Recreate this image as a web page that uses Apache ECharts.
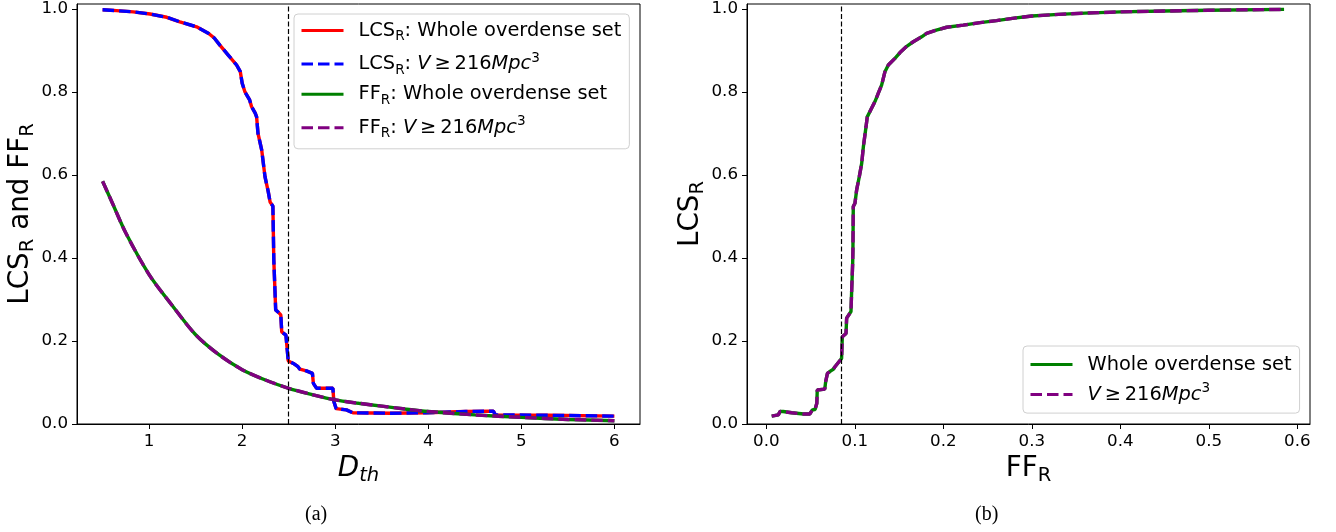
<!DOCTYPE html>
<html>
<head>
<meta charset="utf-8">
<script src="https://cdn.jsdelivr.net/npm/echarts@6/dist/echarts.min.js"></script>
<style>
html, body { margin: 0; padding: 0; background: #fff; }
#chart { width: 1336px; height: 532px; }
</style>
</head>
<body>
<div id="chart"></div>
<script>
// LCS_R as a function of the density threshold D_th
const lcsVsDth = [
  [0.50, 0.998], [0.65, 0.996], [0.83, 0.993], [1.01, 0.988], [1.19, 0.980],
  [1.33, 0.969], [1.51, 0.957], [1.64, 0.941], [1.70, 0.930], [1.76, 0.913],
  [1.85, 0.889], [1.94, 0.865], [1.98, 0.849], [2.00, 0.821], [2.03, 0.800],
  [2.08, 0.781], [2.10, 0.765], [2.14, 0.749], [2.155, 0.740], [2.17, 0.700],
  [2.21, 0.660], [2.245, 0.596], [2.28, 0.560], [2.30, 0.535], [2.33, 0.525],
  [2.34, 0.395], [2.36, 0.275], [2.385, 0.270], [2.415, 0.263], [2.425, 0.222],
  [2.47, 0.214], [2.49, 0.210], [2.495, 0.152], [2.55, 0.146], [2.60, 0.138],
  [2.62, 0.132], [2.69, 0.128], [2.755, 0.122], [2.765, 0.098], [2.80, 0.086],
  [2.975, 0.086], [2.985, 0.054], [3.01, 0.037], [3.12, 0.034], [3.19, 0.027],
  [3.60, 0.026], [3.98, 0.027], [4.40, 0.030], [4.70, 0.031], [4.72, 0.022],
  [5.30, 0.021], [6.00, 0.019]
];
// FF_R as a function of D_th
const ffVsDth = [
  [0.50, 0.585], [0.60, 0.535], [0.75, 0.460], [1.00, 0.360], [1.25, 0.285],
  [1.50, 0.215], [1.75, 0.167], [2.00, 0.131], [2.25, 0.106], [2.50, 0.086],
  [2.75, 0.071], [3.00, 0.058], [3.25, 0.050], [3.50, 0.043], [3.75, 0.036],
  [4.00, 0.030], [4.50, 0.022], [5.00, 0.016], [5.50, 0.011], [6.00, 0.008]
];
// LCS_R against FF_R
const lcsVsFf = [
  [0.006, 0.019], [0.0135, 0.022], [0.0154, 0.030], [0.019, 0.030], [0.0286, 0.027],
  [0.042, 0.024], [0.049, 0.024], [0.052, 0.034], [0.055, 0.035], [0.057, 0.050],
  [0.0575, 0.082], [0.066, 0.084], [0.067, 0.102], [0.069, 0.122], [0.0727, 0.128],
  [0.0756, 0.132], [0.0775, 0.138], [0.082, 0.150], [0.085, 0.158], [0.0858, 0.210],
  [0.090, 0.218], [0.0907, 0.255], [0.0956, 0.271], [0.0964, 0.323], [0.0975, 0.387],
  [0.0978, 0.419], [0.0982, 0.524], [0.1001, 0.532], [0.102, 0.564], [0.105, 0.596],
  [0.1077, 0.628], [0.1096, 0.668], [0.1126, 0.716], [0.114, 0.740], [0.118, 0.757],
  [0.1227, 0.777], [0.1265, 0.797], [0.1303, 0.817], [0.134, 0.849], [0.1378, 0.865],
  [0.1453, 0.881], [0.151, 0.895], [0.1586, 0.910], [0.166, 0.921], [0.1755, 0.933],
  [0.181, 0.941], [0.192, 0.949], [0.2037, 0.956], [0.2225, 0.961], [0.2414, 0.967],
  [0.26, 0.972], [0.28, 0.978], [0.30, 0.983], [0.33, 0.987], [0.36, 0.990],
  [0.40, 0.993], [0.45, 0.995], [0.50, 0.997], [0.585, 0.999]
];

const dthTicks = [1, 2, 3, 4, 5, 6];
const ffTicks = [0, 0.1, 0.2, 0.3, 0.4, 0.5, 0.6];
const yTicks = [0, 0.2, 0.4, 0.6, 0.8, 1.0];
const dthCut = 2.5;
const ffCut = 0.085;

const leftNames = ['LCS: whole', 'LCS: large', 'FF: whole', 'FF: large'];
const rightNames = ['Whole overdense set', 'Large volumes'];
const legendText = {
  'LCS: whole': '{g| }{t|LCS}{s|R}{t|: Whole overdense set}',
  'LCS: large': '{g| }{t|LCS}{s|R}{t|: }{i|V}{t|\u2009≥\u2009216}{i|Mpc}{p|3}',
  'FF: whole': '{g| }{t|FF}{s|R}{t|: Whole overdense set}',
  'FF: large': '{g| }{t|FF}{s|R}{t|: }{i|V}{t|\u2009≥\u2009216}{i|Mpc}{p|3}',
  'Whole overdense set': '{g| }{t|Whole overdense set}',
  'Large volumes': '{g| }{i|V}{t|\u2009≥\u2009216}{i|Mpc}{p|3}'
};

const FONT = 'DejaVu Sans';
const LW = 3.4;
const DASH = [11.5, 5];

const legendRich = {
  g: { width: 10, fontSize: 10, lineHeight: 26 },
  t: { fontFamily: FONT, fontSize: 19.4, color: '#000', lineHeight: 26 },
  i: { fontFamily: FONT, fontSize: 19.4, fontStyle: 'italic', color: '#000', lineHeight: 26 },
  s: { fontFamily: FONT, fontSize: 13.6, color: '#000', lineHeight: 16.6, verticalAlign: 'bottom' },
  p: { fontFamily: FONT, fontSize: 13.6, color: '#000', lineHeight: 12, verticalAlign: 'top' }
};
const nameRich = {
  t: { fontFamily: FONT, fontSize: 27.8, color: '#000', lineHeight: 34 },
  i: { fontFamily: FONT, fontSize: 27.8, fontStyle: 'italic', color: '#000', lineHeight: 34 },
  s: { fontFamily: FONT, fontSize: 19.5, color: '#000', lineHeight: 20.3, verticalAlign: 'bottom' },
  is: { fontFamily: FONT, fontSize: 19.5, fontStyle: 'italic', color: '#000', lineHeight: 20.3, verticalAlign: 'bottom' }
};

const axisCommon = {
  type: 'value',
  splitLine: { show: false },
  axisLine: { show: true, onZero: false, lineStyle: { color: '#000', width: 1 } },
  axisTick: { show: true, inside: false, length: 5, lineStyle: { color: '#000', width: 1 } },
  axisLabel: { color: '#000', fontFamily: FONT, fontSize: 16.7, margin: 9 },
  nameLocation: 'middle'
};

function xAxis(gridIndex, min, max, ticks, name, fmt) {
  return Object.assign({}, axisCommon, {
    gridIndex, min, max, name,
    nameGap: 24,
    nameTextStyle: { rich: nameRich },
    axisTick: Object.assign({}, axisCommon.axisTick, { customValues: ticks }),
    axisLabel: Object.assign({}, axisCommon.axisLabel, { customValues: ticks, formatter: fmt })
  });
}
function yAxis(gridIndex, name) {
  return Object.assign({}, axisCommon, {
    gridIndex, min: 0, max: 1.012, name,
    nameGap: 38, nameRotate: 90,
    nameTextStyle: { rich: nameRich },
    axisTick: Object.assign({}, axisCommon.axisTick, { customValues: yTicks }),
    axisLabel: Object.assign({}, axisCommon.axisLabel, { customValues: yTicks, formatter: v => v.toFixed(1) })
  });
}

function line(name, data, color, dashed, xi, extra) {
  return Object.assign({
    name, type: 'line', data,
    xAxisIndex: xi, yAxisIndex: xi,
    symbol: 'none', showSymbol: false,
    lineStyle: { color, width: LW, type: dashed ? DASH : 'solid' },
    itemStyle: { color },
    emphasis: { disabled: true },
    animation: false
  }, extra || {});
}

// dashed vertical threshold marker spanning the whole plot height
function cutLine(value) {
  return {
    silent: true,
    precision: 6,
    symbol: ['none', 'none'],
    label: { show: false },
    lineStyle: { color: '#000', type: [5, 2.5], width: 1.2 },
    emphasis: { disabled: true },
    data: [{ xAxis: value }]
  };
}

function legend(names, left, top, padding) {
  return {
    data: names,
    orient: 'vertical',
    left, top, padding,
    itemWidth: 42, itemHeight: 14, itemGap: 7.6,
    selectedMode: false,
    backgroundColor: '#fff',
    borderColor: '#d0d0d0', borderWidth: 1, borderRadius: 4,
    itemStyle: { opacity: 0 },
    lineStyle: { width: 3 },
    formatter: n => legendText[n],
    textStyle: { rich: legendRich }
  };
}

const chart = echarts.init(document.getElementById('chart'), null, { renderer: 'canvas' });
chart.setOption({
  backgroundColor: '#fff',
  animation: false,
  grid: [
    { left: 77, top: 4, width: 563, height: 420, show: true, borderColor: '#000', borderWidth: 1, backgroundColor: 'transparent', outerBoundsMode: 'none' },
    { left: 747, top: 4, width: 563, height: 420, show: true, borderColor: '#000', borderWidth: 1, backgroundColor: 'transparent', outerBoundsMode: 'none' }
  ],
  xAxis: [
    xAxis(0, 0.225, 6.275, dthTicks, '{i|D}{is|th}', v => String(Math.round(v))),
    xAxis(1, -0.0219, 0.6143, ffTicks, '{t|FF}{s|R}', v => v.toFixed(1))
  ],
  yAxis: [
    yAxis(0, '{t|LCS}{s|R}{t| and FF}{s|R}'),
    yAxis(1, '{t|LCS}{s|R}')
  ],
  legend: [
    legend(leftNames, 294, 14, [7, 8, 8, 6]),
    legend(rightNames, 1023, 346, [9, 8, 9, 6])
  ],
  series: [
    line(leftNames[0], lcsVsDth, '#ff0000', false, 0),
    line(leftNames[1], lcsVsDth, '#0000ff', true, 0),
    line(leftNames[2], ffVsDth, '#008000', false, 0, { smooth: 0.3 }),
    line(leftNames[3], ffVsDth, '#800080', true, 0, { smooth: 0.3, markLine: cutLine(dthCut) }),
    line(rightNames[0], lcsVsFf, '#008000', false, 1),
    line(rightNames[1], lcsVsFf, '#800080', true, 1, { markLine: cutLine(ffCut) })
  ],
  graphic: [
    { type: 'text', left: 305, top: 505, style: { text: '(a)', font: '20px "Liberation Serif"', fill: '#000' } },
    { type: 'text', left: 975, top: 505, style: { text: '(b)', font: '20px "Liberation Serif"', fill: '#000' } }
  ]
});
</script>
</body>
</html>
